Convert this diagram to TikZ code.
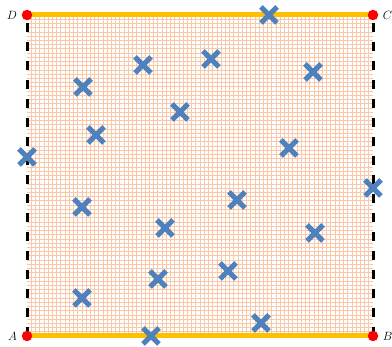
\documentclass[tikz,border=0pt]{standalone}
\usetikzlibrary{shapes.misc}
\definecolor{gridc}{RGB}{248,200,168}
\definecolor{edgeo}{RGB}{255,192,0}
\definecolor{crossb}{RGB}{79,129,189}
\tikzset{
  corner/.style={circle,fill=red,inner sep=0pt,minimum size=10.5pt},
  crossmark/.style={cross out,draw=crossb,line width=5pt,minimum size=11pt,inner sep=0pt},
  dashedge/.style={line width=3pt,dash pattern=on 9pt off 10pt},
  solidedge/.style={line width=5pt,draw=edgeo},
  lab/.style={font=\fontsize{13}{13}\selectfont\itshape}
}
\begin{document}
\begin{tikzpicture}[x=1pt,y=-1pt]
\useasboundingbox (0,0) rectangle (392,347);
% grid
\foreach \i in {1,...,81} {
  \draw[gridc,line width=0.7pt] ({27+\i*4.219512},15) -- ({27+\i*4.219512},336);
}
\foreach \j in {1,...,75} {
  \draw[gridc,line width=0.7pt] (27,{15+\j*4.223684}) -- (373,{15+\j*4.223684});
}
% corners
\coordinate (a) at (27,336);
\coordinate (b) at (373,336);
\coordinate (c) at (373,15);
\coordinate (d) at (27,15);
\draw[dashedge] (a) -- (d);
\draw[dashedge] (b) -- (c);
\draw[solidedge] (d) -- (c);
\draw[solidedge] (a) -- (b);
\node[corner] (A) at (a) {};
\node[corner] (B) at (b) {};
\node[corner] (C) at (c) {};
\node[corner] (D) at (d) {};
\node[lab,left=1pt] (lA) at (A.west) {$A$};
\node[lab,right=1pt] (lB) at (B.east) {$B$};
\node[lab,right=1pt] (lC) at (C.east) {$C$};
\node[lab,left=1pt] (lD) at (D.west) {$D$};
% crosses
\foreach \x/\y [count=\k] in {269/15,143/65,211/59,313/72,83/87,180/112,96/135,289/148,27/157,373/188,237/200,82/207,165/228,315/233,228/271,158/279,82/298,261/323,151/336} {
  \node[crossmark] (x\k) at (\x,\y) {};
}
\end{tikzpicture}
\end{document}
